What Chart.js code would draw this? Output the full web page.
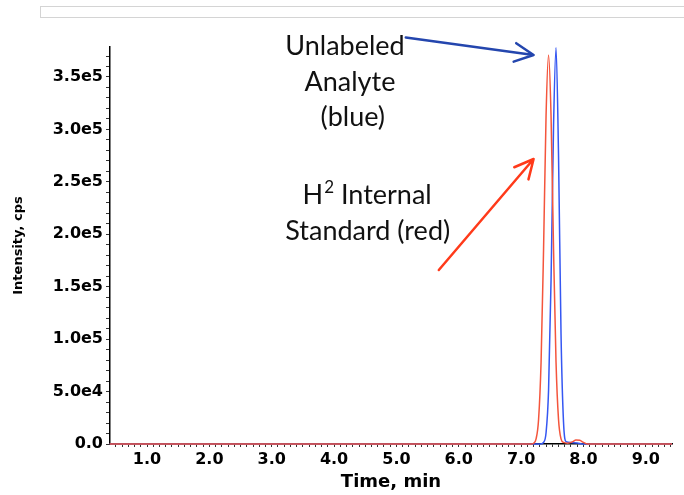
<!DOCTYPE html>
<html>
<head>
<meta charset="utf-8">
<script src="https://cdn.jsdelivr.net/npm/chart.js@4/dist/chart.umd.min.js"></script>
<style>
  body { margin: 0; background: #fff; }
  #wrap { position: relative; width: 684px; height: 495px; }
  #frame { position: absolute; left: 40px; top: 6px; width: 660px; height: 10px; border: 1px solid #d4d4d4; }
</style>
</head>
<body>
<div id="wrap">
  <div id="frame"></div>
  <canvas id="xicChart" width="684" height="495"></canvas>
</div>
<script>
// unlabeled analyte (blue)
let blueTime = [0.4, 7.30, 7.36, 7.40, 7.44, 7.48, 7.52, 7.56, 7.60, 7.64, 7.68, 7.72, 7.80, 7.90, 8.00, 9.42];
let blueIntensity = [0, 0, 1500, 10700, 51000, 156000, 303000, 378000, 275000, 105000, 21000, 2300, 1500, 1000, 0, 0];

// H2 internal standard (red)
let redTime = [0.4, 7.16, 7.20, 7.24, 7.28, 7.32, 7.36, 7.40, 7.44, 7.48, 7.52, 7.56, 7.60, 7.64, 7.68, 7.75, 7.82, 7.88, 7.94, 8.00, 8.06, 9.42];
let redIntensity = [0, 0, 700, 4900, 23400, 78000, 186000, 313000, 371000, 313000, 186000, 78000, 23400, 4900, 1500, 800, 2000, 3800, 3500, 1500, 0, 0];

// axis ticks
let xMajor = [1, 2, 3, 4, 5, 6, 7, 8, 9];
let xMinorStep = 0.1;
let yMajor = [0, 50000, 100000, 150000, 200000, 250000, 300000, 350000];
let yMinorStep = 10000;

let xMin = 0.406, xMax = 9.42;
let yMin = 0, yMax = 378600;

function toPoints(xs, ys) {
    return xs.map((x, i) => ({x: x, y: ys[i]}));
}

function sci(v) {
    if (v === 0) return '0.0';
    let e = Math.floor(Math.log10(v));
    return (v / Math.pow(10, e)).toFixed(1) + 'e' + e;
}

function stepTicks(lo, hi, step) {
    let out = [];
    for (let i = Math.ceil(lo / step); i * step <= hi + 1e-9; i++) {
        out.push({value: Math.round(i * step * 1000) / 1000});
    }
    return out;
}

let isMajor = (list, v) => list.some(m => Math.abs(m - v) < 1e-6);

let tickFont = {family: 'DejaVu Sans', weight: 'bold', size: 16};

// text + arrows drawn in data coordinates
let notes = {
    id: 'notes',
    afterDatasetsDraw(chart) {
        let ctx = chart.ctx;
        let xs = chart.scales.x, ys = chart.scales.y;
        let px = v => xs.getPixelForValue(v);
        let py = v => ys.getPixelForValue(v);

        function arrow(x0, y0, x1, y1, color) {
            let ax = px(x0), ay = py(y0), bx = px(x1), by = py(y1);
            let ang = Math.atan2(by - ay, bx - ax);
            ctx.save();
            ctx.strokeStyle = color;
            ctx.lineWidth = 2.5;
            ctx.lineCap = 'round';
            ctx.beginPath();
            ctx.moveTo(ax, ay);
            ctx.lineTo(bx, by);
            for (let s of [-1, 1]) {
                let a = ang + Math.PI + s * 0.46;
                ctx.moveTo(bx, by);
                ctx.lineTo(bx + 21 * Math.cos(a), by + 21 * Math.sin(a));
            }
            ctx.stroke();
            ctx.restore();
        }

        arrow(5.15, 387700, 7.20, 371000, '#2446ae');
        arrow(5.68, 165900, 7.20, 271800, '#ff3a1a');

        ctx.save();
        ctx.fillStyle = '#111';
        ctx.font = '27px Lato';
        ctx.textAlign = 'center';
        ctx.textBaseline = 'alphabetic';
        ctx.fillText('Unlabeled', px(4.175), py(371000));
        ctx.fillText('Analyte', px(4.255), py(336700));
        ctx.fillText('(blue)', px(4.30), py(303300));
        ctx.fillText('Standard (red)', px(4.54), py(194600));

        // H² Internal with superscript
        let a = 'H', b = '2', c = ' Internal';
        ctx.textAlign = 'left';
        let wa = ctx.measureText(a).width, wc = ctx.measureText(c).width;
        ctx.font = '17px Lato';
        let wb = ctx.measureText(b).width;
        let left = px(4.53) - (wa + wb + wc + 1) / 2;
        let base = py(228900);
        ctx.font = '27px Lato';
        ctx.fillText(a, left, base);
        ctx.font = '17px Lato';
        ctx.fillText(b, left + wa + 1, base - 11);
        ctx.font = '27px Lato';
        ctx.fillText(c, left + wa + wb + 1, base);
        ctx.restore();
    }
};

let xicChart = new Chart(document.getElementById('xicChart').getContext('2d'), {
    type: 'line',
    data: {
        datasets: [{
            label: 'Unlabeled Analyte',
            data: toPoints(blueTime, blueIntensity),
            borderColor: '#3557f2',
            borderWidth: 1.5,
            pointRadius: 0,
            cubicInterpolationMode: 'monotone',
            clip: 3,
            order: 1,
            fill: false
        }, {
            label: 'H2 Internal Standard',
            data: toPoints(redTime, redIntensity),
            borderColor: '#f4553c',
            borderWidth: 1.5,
            pointRadius: 0,
            cubicInterpolationMode: 'monotone',
            clip: 3,
            order: 0,
            fill: false
        }]
    },
    options: {
        responsive: false,
        animation: false,
        layout: {padding: {top: 47, right: 12, left: 0, bottom: 0}},
        plugins: {legend: {display: false}, tooltip: {enabled: false}},
        scales: {
            x: {
                type: 'linear',
                min: xMin,
                max: xMax,
                afterBuildTicks: s => { s.ticks = stepTicks(xMin, xMax, xMinorStep); },
                afterFit: s => { s.height = 51; },
                border: {color: '#000', width: 1.5},
                grid: {drawOnChartArea: false, tickLength: 3, color: '#333'},
                ticks: {
                    autoSkip: false,
                    maxRotation: 0,
                    padding: 3,
                    color: '#000',
                    font: tickFont,
                    callback: v => isMajor(xMajor, v) ? v.toFixed(1) : ''
                },
                title: {
                    display: true,
                    text: 'Time, min',
                    color: '#000',
                    font: {family: 'DejaVu Sans', weight: 'bold', size: 18},
                    padding: {top: 0, bottom: 2}
                }
            },
            y: {
                min: yMin,
                max: yMax,
                afterBuildTicks: s => { s.ticks = stepTicks(yMin, yMax, yMinorStep); },
                afterFit: s => { s.width = 110; },
                border: {color: '#000', width: 1.5},
                grid: {drawOnChartArea: false, tickLength: 4, color: '#333'},
                ticks: {
                    autoSkip: false,
                    padding: 3,
                    color: '#000',
                    font: tickFont,
                    callback: v => isMajor(yMajor, v) ? sci(v) : ''
                },
                title: {
                    display: true,
                    text: 'Intensity, cps',
                    color: '#000',
                    font: {family: 'DejaVu Sans', weight: 'bold', size: 13},
                    padding: {top: 11, bottom: 0}
                }
            }
        }
    },
    plugins: [notes]
});
</script>
</body>
</html>
